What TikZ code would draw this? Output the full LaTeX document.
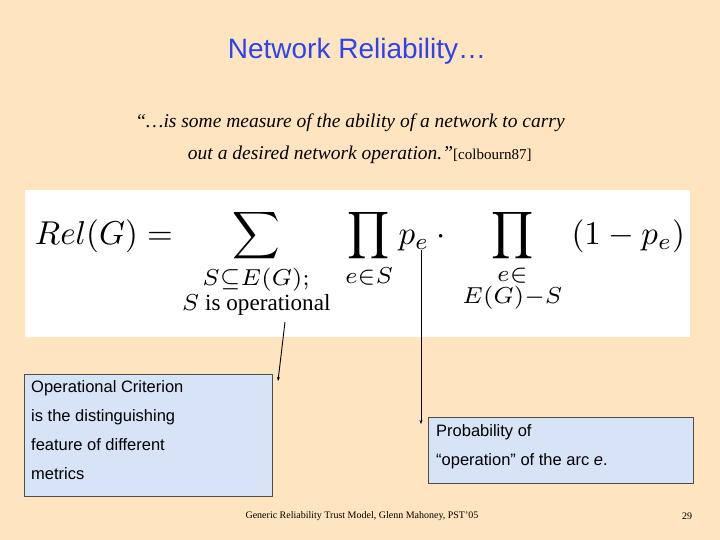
\documentclass[tikz,border=0pt]{standalone}
\usepackage{graphicx}
\usepackage{fontspec}
\usepackage{amsmath}
\setmainfont{Liberation Serif}
\newfontfamily\arial{Liberation Sans}
\usetikzlibrary{arrows.meta}
\definecolor{bg}{HTML}{FFE4C0}
\definecolor{boxc}{HTML}{D7E3F6}
\definecolor{titc}{HTML}{2B44EE}
\begin{document}
\begin{tikzpicture}[x=1pt,y=-1pt,
  callout/.style={draw=black!70,fill=boxc,line width=0.8pt,inner sep=0pt,anchor=north west},
  btext/.style={anchor=north west,align=left,inner sep=0pt,font=\arial\fontsize{16.5}{29}\selectfont},
  conn/.style={line width=0.9pt,-{Stealth[length=4pt,width=3pt]}}]
\fill[bg] (0,0) rectangle (720,540);
\useasboundingbox (0,0) rectangle (720,540);
\node (title) at (357,51) [font=\arial\fontsize{28}{32}\selectfont,text=titc] {Network Reliability\ldots};
\node (quote) at (350,139) [align=center,font=\fontsize{19.5}{32}\selectfont\itshape]{“\ldots is some measure of the ability of a network to carry\\
\hspace*{1em}out a desired network operation.”{\upshape\fontsize{15}{15}\selectfont[colbourn87]}};
\fill[white] (25,190) rectangle (690,337);
\node (formula) at (360,264) {\resizebox{650pt}{!}{$\displaystyle Rel(G) = \sum_{\substack{S\subseteq E(G);\\ S \text{ is operational}}} \;\prod_{e\in S} p_e\cdot \;\prod_{\substack{e\in\\ E(G)-S}}\;(1-p_e)$}};
\node (b1) [callout,minimum width=248,minimum height=122] at (24,374) {};
\node (t1) [btext] at (31,380) {Operational Criterion\\is the distinguishing\\feature of different\\metrics};
\node (b2) [callout,minimum width=265,minimum height=66] at (428,417) {};
\node (t2) [btext] at (436,424) {Probability of\\“operation” of the arc \textit{e}.};
\coordinate (s1) at (285,322);
\coordinate (e1) at (278,381);
\coordinate (s2) at (421,250);
\coordinate (e2) at (421,424);
\draw[conn] (s1) -- (e1);
\draw[conn] (s2) -- (e2);
\node (foot) at (362,516) {\fontsize{10}{12}\selectfont Generic Reliability Trust Model, Glenn Mahoney, PST'05};
\node (pg) at (687,516) {\fontsize{10}{12}\selectfont 29};
\end{tikzpicture}
\end{document}
